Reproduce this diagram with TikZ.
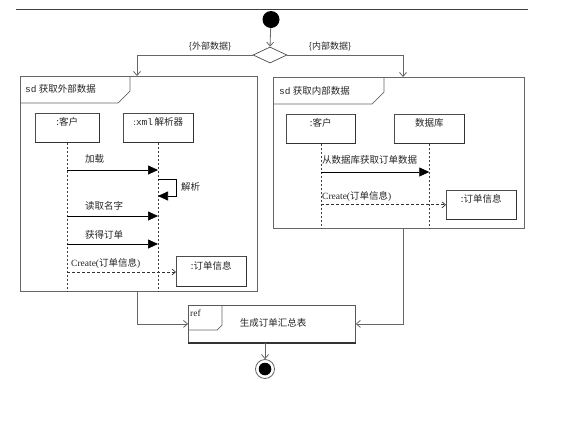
\documentclass[tikz,border=0pt]{standalone}
\usepackage{fontspec}
\setmainfont{Liberation Serif}
\setmonofont{Liberation Mono}
\newfontfamily\cjk{Noto Sans CJK SC}
\usetikzlibrary{arrows.meta,shapes.geometric}
\begin{document}
\begin{tikzpicture}[x=1pt,y=-1pt,
  txt/.style={font=\fontsize{9.5}{11}\selectfont, inner sep=0pt, text=black!85},
  framebox/.style={draw=black!60, line width=0.8pt, rectangle, inner sep=0pt, anchor=north west},
  tabline/.style={draw=black!60, line width=0.7pt},
  thickedge/.style={draw=black!80, line width=1.4pt, -},
  head/.style={draw=black!70, line width=0.6pt, rectangle, inner sep=0pt, anchor=north west,
    minimum width=#1, minimum height=29pt, text height=7pt, text depth=11pt,
    font=\fontsize{9.5}{11}\selectfont, text=black!85,
    append after command={(\tikzlastnode.north east) edge[thickedge] (\tikzlastnode.south east)
      (\tikzlastnode.south east) edge[thickedge] (\tikzlastnode.south west)}},
  lifeline/.style={draw=black!75, line width=0.6pt, dash pattern=on 2.5pt off 1.5pt},
  msg/.style={draw=black, line width=0.7pt, -{Triangle[length=10pt,width=9pt]}},
  create/.style={draw=black!80, line width=0.7pt, dash pattern=on 3pt off 2pt, -{Straight Barb[length=3.5pt,width=6pt]}},
  flow/.style={draw=black!60, line width=0.8pt, -{Straight Barb[length=4pt,width=7pt]}},
]
\useasboundingbox (0,0) rectangle (576,421);

% top rule
\coordinate (tl) at (16,9);
\coordinate (tr) at (528,9);
\draw[black!75, line width=0.9pt] (tl) -- (tr);

% start and decision
\node[circle, fill=black, minimum size=17pt, inner sep=0pt] (start) at (271,19.5) {};
\node[diamond, draw=black!70, line width=0.7pt, fill=white, inner sep=0pt, minimum width=34pt, minimum height=16pt, aspect=2.1] (dec) at (270,55) {};
\draw[flow] (start) -- (dec.north);
\node[txt, font=\cjk\fontsize{9}{10}\selectfont] (gl) at (210,46) {\{外部数据\}};
\node[txt, font=\cjk\fontsize{9}{10}\selectfont] (gr) at (330,46) {\{内部数据\}};

% ---------- left frame ----------
\node[framebox, minimum width=237pt, minimum height=215pt] (lf) at (20,76) {};
\draw[tabline] (20,103) -- (118,103) -- (130,91) -- (130,76);
\node[txt, anchor=west] (lft) at (25,89) {{\ttfamily sd} {\cjk 获取外部数据}};

\node[head=64pt] (lc) at (35,113) {{\cjk :客户}};
\node[head=70pt] (lx) at (123,113) {:{\ttfamily xml}\,{\cjk 解析器}};
\draw[lifeline] (lc.south) -- (lc.south |- lf.south);
\draw[lifeline] (lx.south) -- (lx.south |- lf.south);

\coordinate (m1a) at (67,170);  \coordinate (m1b) at (158,170);
\draw[msg] (m1a) -- (m1b);
\node[txt, anchor=west, font=\cjk\fontsize{9.5}{11}\selectfont] (m1t) at (85,159) {加载};

\coordinate (s1a) at (158,179); \coordinate (s1b) at (176,179);
\coordinate (s1c) at (176,196); \coordinate (s1d) at (158,196);
\draw[msg] (s1a) -- (s1b) -- (s1c) -- (s1d);
\node[txt, anchor=west, font=\cjk\fontsize{9.5}{11}\selectfont] (s1t) at (181,187) {解析};

\coordinate (m2a) at (67,216);  \coordinate (m2b) at (158,216);
\draw[msg] (m2a) -- (m2b);
\node[txt, anchor=west, font=\cjk\fontsize{9.5}{11}\selectfont] (m2t) at (85,206) {读取名字};

\coordinate (m3a) at (67,244);  \coordinate (m3b) at (158,244);
\draw[msg] (m3a) -- (m3b);
\node[txt, anchor=west, font=\cjk\fontsize{9.5}{11}\selectfont] (m3t) at (85,235) {获得订单};

\node[head=70pt, minimum height=30pt] (lo) at (176,256) {{\cjk :订单信息}};
\coordinate (c1a) at (67,272);
\draw[create] (c1a) -- (c1a -| lo.west);
\node[txt, anchor=west] (c1t) at (71,263) {Create({\cjk 订单信息})};

% ---------- right frame ----------
\node[framebox, minimum width=251pt, minimum height=151pt] (rf) at (273,77) {};
\draw[tabline] (273,104) -- (372,104) -- (384,92) -- (384,77);
\node[txt, anchor=west] (rft) at (279,91) {{\ttfamily sd} {\cjk 获取内部数据}};

\node[head=69pt] (rc) at (286,114) {{\cjk :客户}};
\node[head=70pt] (rd) at (394,114) {{\cjk 数据库}};
\draw[lifeline] (rc.south) -- (rc.south |- rf.south);
\draw[lifeline] (rd.south) -- (rd.south |- rf.south);

\coordinate (r1a) at (rc.south |- 0,172); \coordinate (r1b) at (rd.south |- 0,172);
\draw[msg] (r1a) -- (r1b);
\node[txt, anchor=west, font=\cjk\fontsize{9.5}{11}\selectfont] (r1t) at (322,160) {从数据库获取订单数据};

\node[head=70pt] (ro) at (446,190) {{\cjk :订单信息}};
\coordinate (c2a) at (rc.south |- ro.west);
\draw[create] (c2a) -- (ro.west);
\node[txt, anchor=west] (c2t) at (322,196) {Create({\cjk 订单信息})};

% ---------- branches ----------
\coordinate (lin) at (137,76);
\coordinate (rin) at (403,77);
\draw[flow] (dec.west) -| (lin);
\draw[flow] (dec.east) -| (rin);

% ---------- ref ----------
\node[framebox, draw=black!65, minimum width=167pt, minimum height=37pt] (ref) at (188,305) {};
\draw[black!80, line width=1.4pt] (ref.south west) -- (ref.south east);
\draw[tabline] (188,330) -- (217,330) -- (222,325) -- (222,305);
\node[txt, anchor=west] (reft) at (190,313) {ref};
\node[txt, font=\cjk\fontsize{9.5}{11}\selectfont] (refm) at (273,323) {生成订单汇总表};

\coordinate (lout) at (137,291);
\coordinate (rout) at (403,228);
\draw[flow] (lout) |- (ref.west);
\draw[flow] (rout) |- (ref.east);

% ---------- end ----------
\node[circle, draw=black!60, line width=0.8pt, minimum size=19pt, inner sep=0pt] (end) at (265,369) {};
\fill[black] (end.center) circle (6.3pt);
\draw[flow] (end |- ref.south) -- (end.north);
\end{tikzpicture}
\end{document}
